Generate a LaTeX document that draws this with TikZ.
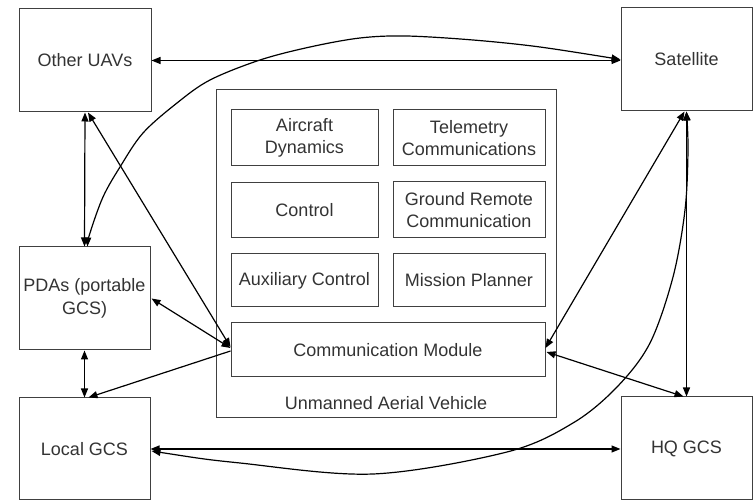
\documentclass[tikz,border=0pt]{standalone}
\usepackage{fontspec}
\setmainfont{Liberation Sans}
\usetikzlibrary{arrows.meta,calc}
\begin{document}
\begin{tikzpicture}[x=1pt,y=-1pt,
  box/.style={draw=black!75,line width=1pt,inner sep=0pt,align=center,text=black!80,
    font=\fontsize{18}{22.5}\selectfont},
  outer/.style={box,minimum width=131pt,minimum height=103pt},
  sub/.style={box,minimum width=147pt,minimum height=56pt},
  subr/.style={box,minimum width=152pt,minimum height=56pt},
  lbl/.style={inner sep=0pt,text=black!80,font=\fontsize{18}{22.5}\selectfont},
  link/.style={line width=1.2pt,black,
    {Triangle[length=9pt,width=7pt]}-{Triangle[length=9pt,width=7pt]}},
  oneway/.style={line width=1.2pt,black,-{Triangle[length=9pt,width=7pt]}}]
\useasboundingbox (0,0) rectangle (753,502);
% outer nodes
\node[outer,minimum width=132pt] (ouav) at (85,60.5) {Other UAVs};
\node[outer] (sat) at (686.5,59.5) {Satellite};
\node[outer] (pda) at (84.5,298.5) {PDAs (portable\\GCS)};
\node[outer,minimum height=102pt] (lgcs) at (84.5,449) {Local GCS};
\node[outer] (hq) at (686.5,448.5) {HQ GCS};
% UAV
\node[box,minimum width=340pt,minimum height=328pt] (uav) at (386,254) {};
\node[lbl] (uavl) at (386,403) {Unmanned Aerial Vehicle};
\node[sub] (ad) at (304.5,138) {Aircraft\\Dynamics};
\node[subr] (tc) at (469,138) {Telemetry\\Communications};
\node[sub,minimum height=55pt] (ctl) at (304.5,210.5) {Control};
\node[subr] (grc) at (469,210) {Ground Remote\\Communication};
\node[sub,minimum height=53pt] (aux) at (304.5,280.5) {Auxiliary Control};
\node[subr,minimum height=53pt] (mp) at (469,280.5) {Mission Planner};
\node[box,minimum width=314pt,minimum height=54pt] (comm) at (388,350) {Communication Module};
% connectors
\draw[link] (ouav.east) -- (ouav.east -| sat.west);
\draw[link] plot[smooth,tension=0.55] coordinates {($(pda.north)+(3,0)$) (90,233) (103,197)
   (120,167) (143,133) (177,103) (210,80) (260,60) (310,47) (360,38) (406,36) (473,40)
   (540,47) (sat.west)};
\draw[link] (ouav.south) -- (pda.north);
\draw[link] ($(ouav.south)+(3,0)$) -- ($(comm.west)+(0,-3)$);
\draw[link] ($(pda.east)+(1,0)$) -- ($(comm.west)+(0,-2)$);
\draw[oneway] ($(comm.west)+(0,1)$) -- ($(lgcs.north)+(4,0)$);
\draw[link] (pda.south) -- (lgcs.north);
\draw[link] (lgcs.east) -- (lgcs.east -| hq.west);
\draw[link] plot[smooth,tension=0.55] coordinates {($(lgcs.east)+(1,2)$) (240,463) (373,474)
   (507,452) (573,423) (617,387) (650,343) (673,277) (685,210) (688,150) (sat.south)};
\draw[link] (sat.south) -- (hq.north);
\draw[link] ($(sat.south)+(-2,0)$) -- ($(comm.east)+(0,-2)$);
\draw[link] ($(comm.east)+(1,2)$) -- ($(hq.north)+(-3,0)$);
\end{tikzpicture}
\end{document}
